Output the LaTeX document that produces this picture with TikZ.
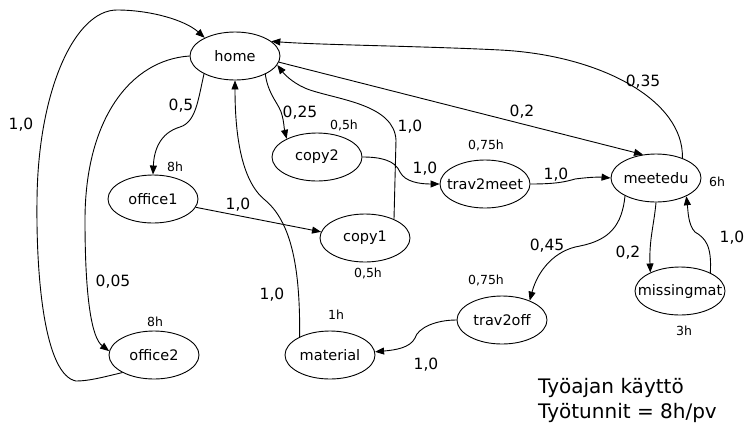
\documentclass[tikz,border=0pt]{standalone}
\usepackage{fontspec}
\setmainfont{DejaVu Sans}
\usetikzlibrary{shapes.geometric}
\usetikzlibrary{arrows.meta}

\begin{document}
\begin{tikzpicture}[x=1pt,y=-1pt,
    task/.style={draw, ellipse, line width=0.9pt, inner xsep=-12pt, inner ysep=0pt,
      minimum width=90pt, minimum height=48pt, font=\fontsize{14.5}{16}\selectfont},
    prob/.style={inner sep=0pt, font=\fontsize{15.5}{18}\selectfont},
    dur/.style={inner sep=0pt, font=\fontsize{12.5}{14}\selectfont},
    flow/.style={line width=0.9pt, -{Triangle[length=9pt,width=7pt]}}]
    \useasboundingbox (0,0) rectangle (744,429);
    % States
    \node [task] (home) at (235,56) {home};
    \node [task] (office1) at (153,199) {office1};
    \node [task] (office2) at (154,355) {office2};
    \node [task] (copy2) at (317,157) {copy2};
    \node [task] (copy1) at (365,238) {copy1};
    \node [task] (trav2meet) at (485,184) {trav2meet};
    \node [task] (meetedu) at (656,178) {meetedu};
    \node [task] (missingmat) at (680,291) {missingmat};
    \node [task] (trav2off) at (502,320) {trav2off};
    \node [task] (material) at (330,355) {material};
    % Durations
    \node [dur] (h-office1) at (175,167) {8h};
    \node [dur] (h-copy2) at (344,125) {0,5h};
    \node [dur] (h-trav2meet) at (486,145) {0,75h};
    \node [dur] (h-meetedu) at (717,182) {6h};
    \node [dur] (h-copy1) at (368,273) {0,5h};
    \node [dur] (h-office2) at (155,322) {8h};
    \node [dur] (h-material) at (336,315) {1h};
    \node [dur] (h-trav2off) at (486,280) {0,75h};
    \node [dur] (h-missingmat) at (684,331) {3h};
    % office2 back home (outer loop)
    \draw [flow] (office2.209) .. controls (100,378) and (88,381) .. (76,381)
      .. controls (45,375) and (36,280) .. (37,200)
      .. controls (38,90) and (75,10) .. (117,10)
      .. controls (150,10) and (185,20) .. (home.149);
    \node [prob] (p-office2-home) at (21,125) {1,0};
    % home to office1
    \draw [flow] (home.210) .. controls (198,100) and (196,122) .. (180,127)
      .. controls (160,133) and (154,150) .. (office1.north);
    \node [prob] (p-home-office1) at (181,106) {0,5};
    % home to office2
    \draw [flow] (home.180) .. controls (130,60) and (85,120) .. (85,220)
      .. controls (85,300) and (92,338) .. (office2.175);
    \node [prob] (p-home-office2) at (113,282) {0,05};
    % home to copy2
    \draw [flow] (home.-31) .. controls (268,95) and (280,105) .. (282,115)
      .. controls (284,122) and (284,128) .. (copy2.149);
    \node [prob] (p-home-copy2) at (300,113) {0,25};
    % copy1 back home
    \draw [flow] (copy1.33) -- (396,140) .. controls (394,105) and (340,100) .. (310,90)
      .. controls (295,85) and (285,75) .. (home.-12);
    \node [prob] (p-copy1-home) at (410,127) {1,0};
    % home to meetedu
    \draw [flow] (home.-8) -- (meetedu.119);
    \node [prob] (p-home-meetedu) at (522,112) {0,2};
    % meetedu back home
    \draw [flow] (meetedu.37) .. controls (684,100) and (600,55) .. (500,50)
      .. controls (420,46) and (320,45) .. (home.22);
    \node [prob] (p-meetedu-home) at (643,82) {0,35};
    % copy2 to trav2meet
    \draw [flow] (copy2.east) .. controls (380,157) and (395,160) .. (400,172)
      .. controls (405,182) and (420,184) .. (trav2meet.west);
    \node [prob] (p-copy2-trav2meet) at (425,169) {1,0};
    % trav2meet to meetedu
    \draw [flow] (trav2meet.east) .. controls (555,184) and (565,182) .. (575,179)
      .. controls (590,177) and (600,177) .. (meetedu.west);
    \node [prob] (p-trav2meet-meetedu) at (556,175) {1,0};
    % office1 to copy1
    \draw [flow] (office1.-11) -- (copy1.172);
    \node [prob] (p-office1-copy1) at (238,205) {1,0};
    % material back home
    \draw [flow] (material.149) .. controls (300,280) and (295,225) .. (265,200)
      .. controls (240,180) and (235,130) .. (home.south);
    \node [prob] (p-material-home) at (272,295) {1,0};
    % meetedu to trav2off
    \draw [flow] (meetedu.210) .. controls (622,225) and (610,240) .. (580,246)
      .. controls (555,250) and (538,270) .. (trav2off.35);
    \node [prob] (p-meetedu-trav2off) at (547,246) {0,45};
    % meetedu to missingmat
    \draw [flow] (meetedu.south) .. controls (654,225) and (649,240) .. (missingmat.148);
    \node [prob] (p-meetedu-missingmat) at (628,253) {0,2};
    % missingmat back to meetedu
    \draw [flow] (missingmat.31) .. controls (712,245) and (705,238) .. (695,232)
      .. controls (688,225) and (688,210) .. (meetedu.-31);
    \node [prob] (p-missingmat-meetedu) at (732,238) {1,0};
    % trav2off to material
    \draw [flow] (trav2off.west) .. controls (435,320) and (418,328) .. (415,338)
      .. controls (410,348) and (395,350) .. (material.4);
    \node [prob] (p-trav2off-material) at (426,365) {1,0};
    % Caption
    \node [anchor=base west, inner sep=0pt, font=\fontsize{20}{24}\selectfont] (title) at (538,393) {Työajan käyttö};
    \node [anchor=base west, inner sep=0pt, font=\fontsize{20}{24}\selectfont] (subtitle) at (538,418) {Työtunnit = 8h/pv};
\end{tikzpicture}
\end{document}
